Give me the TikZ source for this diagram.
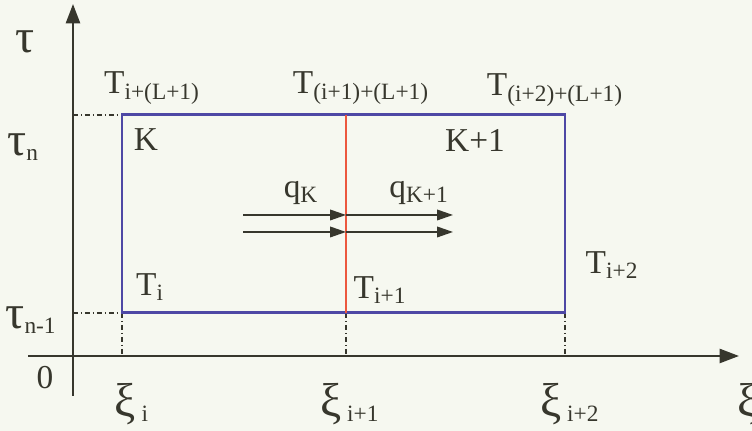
\documentclass[tikz,border=0pt]{standalone}
\usepackage{fontspec}
\setmainfont{Liberation Serif}
\usetikzlibrary{arrows.meta, positioning, backgrounds}

\definecolor{paper}{RGB}{246,248,240}
\definecolor{ink}{RGB}{55,55,45}
\definecolor{cellblue}{RGB}{78,72,165}
\definecolor{cellred}{RGB}{236,88,62}
\newcommand{\grk}[1]{{\fontsize{27}{30}\selectfont #1}}

\begin{document}
\begin{tikzpicture}[
    x=0.02cm, y=0.02cm,
    font=\fontsize{19}{22}\selectfont,
    axis/.style={ink, line width=1.3pt, -{Triangle[length=11pt,width=8pt]}},
    guide/.style={ink, line width=0.7pt, dash pattern=on 3pt off 1.5pt on 0.8pt off 1.5pt},
    cell/.style={cellblue, line width=1.7pt},
    flux/.style={ink, line width=0.9pt, -{Triangle[length=9pt,width=6pt]}},
    lbl/.style={inner sep=0pt, text=ink}
]
\fill [paper] (0,0) rectangle (752,431);
\useasboundingbox (0,0) rectangle (752,431);

% axes
\coordinate (origin) at (73,75);
\coordinate (ybot) at (73,35);
\coordinate (ytop) at (73,427);
\coordinate (xleft) at (28,75);
\coordinate (xright) at (739,75);
\draw [axis] (ybot) -- (ytop);
\draw [axis] (xleft) -- (xright);

% cell corners
\coordinate (sw) at (122,118);
\coordinate (nw) at (122,316);
\coordinate (s) at (346,118);
\coordinate (n) at (346,316);
\coordinate (se) at (565,118);
\coordinate (ne) at (565,316);

% guide lines
\coordinate (tn) at (73,316);
\coordinate (tnm) at (73,118);
\coordinate (xi0) at (122,75);
\coordinate (xi1) at (346,75);
\coordinate (xi2) at (565,75);
\draw [guide] (tn) -- (nw);
\draw [guide] (tnm) -- (sw);
\draw [guide] (sw) -- (xi0);
\draw [guide] (s) -- (xi1);
\draw [guide] (se) -- (xi2);

% cells
\draw [cell] (sw) rectangle (ne);
\draw [cellred, line width=1.6pt] (s) -- (n);

% fluxes
\coordinate (qa0) at (243,216);
\coordinate (qa1) at (346,216);
\coordinate (qa2) at (453,216);
\coordinate (qb0) at (243,199);
\coordinate (qb1) at (346,199);
\coordinate (qb2) at (453,199);
\draw [flux] (qa0) -- (qa1);
\draw [flux] (qa1) -- (qa2);
\draw [flux] (qb0) -- (qb1);
\draw [flux] (qb1) -- (qb2);

% axis labels
\node (tau) [lbl] at (25,389) {\grk{τ}};
\node (taun) [lbl] at (23,284) {\grk{τ}\textsubscript{n}};
\node (taunm) [lbl] at (31,111) {\grk{τ}\textsubscript{n-1}};
\node (zero) [lbl] at (45,53) {0};
\node (xii) [lbl] at (132,27) {\grk{ξ}\,\textsubscript{i}};
\node (xiia) [lbl] at (350,27) {\grk{ξ}\,\textsubscript{i+1}};
\node (xiib) [lbl] at (570,27) {\grk{ξ}\,\textsubscript{i+2}};
\node (xiaxis) [lbl, anchor=west] at (737,27) {\grk{ξ}};

% node temperatures
\node (Ttl) [lbl] at (152,343) {T\textsubscript{i+(L+1)}};
\node (Ttm) [lbl] at (361,343) {T\textsubscript{(i+1)+(L+1)}};
\node (Ttr) [lbl] at (555,341) {T\textsubscript{(i+2)+(L+1)}};
\node (Tbl) [lbl] at (150,144) {T\textsubscript{i}};
\node (Tbm) [lbl] at (380,141) {T\textsubscript{i+1}};
\node (Tbr) [lbl] at (612,166) {T\textsubscript{i+2}};

% cells and fluxes
\node (cK) [lbl] at (146,291) {K};
\node (cK1) [lbl] at (475,291) {K+1};
\node (qK) [lbl] at (301,238) {q\textsubscript{K}};
\node (qK1) [lbl] at (419,238) {q\textsubscript{K+1}};
\end{tikzpicture}
\end{document}
